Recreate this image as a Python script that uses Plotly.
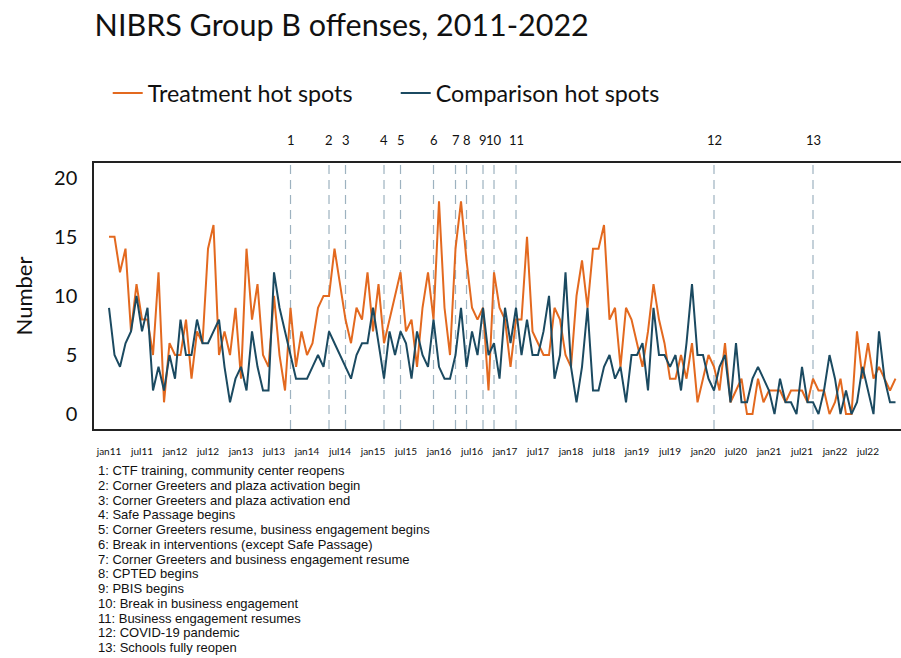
import plotly.graph_objects as go

# Monthly counts, jan 2011 .. dec 2022 (index 0 = jan11)
treatment = [15, 15, 12, 14, 7, 11, 8, 8, 5, 12, 1, 6,
             5, 5, 8, 3, 7, 6, 14, 16, 5, 7, 5, 9,
             3, 14, 8, 11, 5, 4, 10, 5, 2, 9, 4, 7,
             5, 6, 9, 10, 10, 14, 11, 8, 6, 9, 8, 12,
             7, 11, 6, 8, 10, 12, 7, 8, 4, 9, 12, 8,
             18, 9, 5, 14, 18, 13, 9, 8, 9, 2, 12, 9,
             8, 4, 8, 8, 15, 7, 6, 5, 5, 9, 8, 5,
             4, 10, 13, 9, 14, 14, 16, 8, 9, 4, 9, 8,
             6, 4, 7, 11, 8, 6, 3, 3, 5, 3, 6, 1,
             3, 5, 4, 2, 6, 1, 2, 3, 0, 0, 3, 1,
             2, 2, 2, 1, 2, 2, 2, 1, 3, 2, 2, 0,
             1, 3, 0, 0, 7, 3, 6, 3, 4, 3, 2, 3]

comparison = [9, 5, 4, 6, 7, 10, 7, 9, 2, 4, 2, 5,
              3, 8, 5, 5, 8, 6, 6, 7, 8, 4, 1, 3,
              4, 2, 7, 4, 2, 2, 12, 9, 7, 5, 3, 3,
              3, 4, 5, 4, 7, 6, 5, 4, 3, 5, 6, 6,
              9, 6, 3, 7, 5, 7, 6, 3, 7, 5, 4, 8,
              4, 3, 3, 5, 9, 4, 7, 5, 9, 5, 6, 3,
              9, 6, 9, 5, 8, 5, 5, 7, 10, 3, 5, 12,
              4, 1, 4, 9, 2, 2, 4, 5, 3, 4, 1, 5,
              5, 6, 2, 9, 5, 5, 4, 5, 2, 6, 11, 5,
              5, 3, 2, 4, 5, 1, 6, 1, 1, 3, 4, 3,
              2, 0, 3, 1, 1, 0, 4, 1, 1, 0, 2, 5,
              3, 0, 2, 0, 1, 4, 2, 0, 7, 3, 1, 1]

months = list(range(len(treatment)))

tick_months = list(range(0, 144, 6))
tick_labels = ["jan11", "jul11", "jan12", "jul12", "jan13", "jul13",
               "jan14", "jul14", "jan15", "jul15", "jan16", "jul16",
               "jan17", "jul17", "jan18", "jul18", "jan19", "jul19",
               "jan20", "jul20", "jan21", "jul21", "jan22", "jul22"]

# Intervention events: month index where each starts
event_ids = ["1", "2", "3", "4", "5", "6", "7", "8", "9", "10", "11", "12", "13"]
event_months = [33, 40, 43, 50, 53, 59, 63, 65, 68, 70, 74, 110, 128]

notes = [
    "1: CTF training, community center reopens",
    "2: Corner Greeters and plaza activation begin",
    "3: Corner Greeters and plaza activation end",
    "4: Safe Passage begins",
    "5: Corner Greeters resume, business engagement begins",
    "6: Break in interventions (except Safe Passage)",
    "7: Corner Greeters and business engagement resume",
    "8: CPTED begins",
    "9: PBIS begins",
    "10: Break in business engagement",
    "11: Business engagement resumes",
    "12: COVID-19 pandemic",
    "13: Schools fully reopen",
]

FONT = "Lato"
NOTE_FONT = "Liberation Sans"
ORANGE = "#E3691F"
NAVY = "#1B4A61"

fig = go.Figure()
fig.add_trace(go.Scatter(x=months, y=treatment, mode="lines",
                         name="Treatment hot spots",
                         line=dict(color=ORANGE, width=2)))
fig.add_trace(go.Scatter(x=months, y=comparison, mode="lines",
                         name="Comparison hot spots",
                         line=dict(color=NAVY, width=2)))

for eid, m in zip(event_ids, event_months):
    fig.add_shape(type="line", xref="x", yref="paper", x0=m, x1=m, y0=0, y1=1,
                  line=dict(color="#9DB2C0", width=1.2, dash="9px,6px"), layer="below")
    fig.add_annotation(x=m, y=1.085, xref="x", yref="paper", text=eid,
                       showarrow=False, font=dict(family=FONT, size=13, color="#111"),
                       xanchor="center", yanchor="middle")

# Key to the event numbers: one block, tight line spacing (set by the base
# font size) with slightly larger glyphs inside each line.
notes_text = "<br>".join('<span style="font-size:13px">%s</span>' % n for n in notes)
fig.add_annotation(x=0.004, y=-0.124, xref="paper", yref="paper",
                   text=notes_text, showarrow=False, xanchor="left", yanchor="top",
                   align="left", borderpad=0,
                   font=dict(family=NOTE_FONT, size=11.35, color="#111"))

fig.update_layout(
    width=901, height=658,
    margin=dict(l=94, r=0, t=163, b=229),
    paper_bgcolor="white", plot_bgcolor="white",
    font=dict(family=FONT, color="#111"),
    title=dict(text="NIBRS Group B offenses, 2011-2022", x=0.105, xref="container",
               xanchor="left", y=0.962, yref="container", yanchor="middle",
               font=dict(family=FONT, size=30.5, color="#111")),
    legend=dict(orientation="h", x=0.017, y=1.262, xanchor="left", yanchor="middle",
                font=dict(family=FONT, size=23.3, color="#111"),
                itemwidth=30, entrywidth=243, entrywidthmode="pixels",
                tracegroupgap=0),
    showlegend=True,
)

fig.update_xaxes(range=[-2.73, 144.0], tickvals=tick_months, ticktext=tick_labels,
                 showgrid=False, zeroline=False, showline=True, linecolor="#222",
                 linewidth=1.5, mirror=True, ticks="", ticklabelstandoff=12,
                 tickfont=dict(family=FONT, size=10, color="#111"))
fig.update_yaxes(range=[-1.26, 21.25], tickvals=[0, 5, 10, 15, 20],
                 showgrid=False, zeroline=False, showline=True, linecolor="#222",
                 linewidth=1.5, ticks="", ticklabelstandoff=11,
                 tickfont=dict(family=FONT, size=20, color="#111"),
                 title=dict(text="Number", font=dict(family=FONT, size=22, color="#111"),
                            standoff=15))

fig.write_html("out.html")
